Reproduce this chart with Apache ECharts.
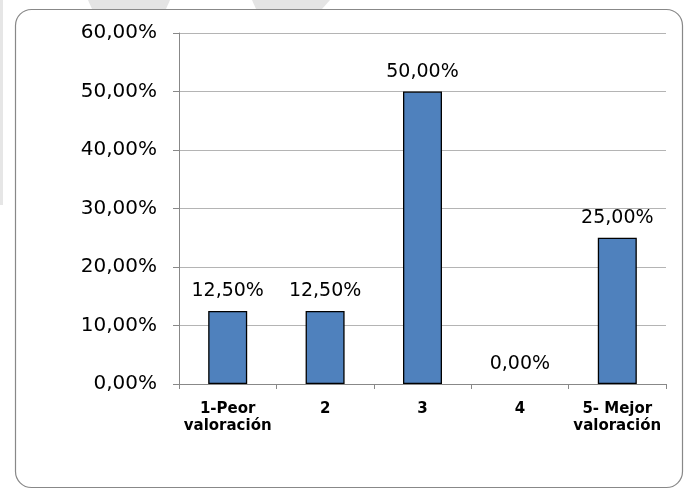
<!DOCTYPE html>
<html><head><meta charset="utf-8">
<script src="https://cdn.jsdelivr.net/npm/echarts@6/dist/echarts.min.js"></script>
<style>html,body{margin:0;padding:0;background:#fff}#c{width:688px;height:489px}</style>
</head><body><div id="c"></div>
<script>
const categories = ['1-Peor\nvaloración', '2', '3', '4', '5- Mejor\nvaloración'];
const values = [12.5, 12.5, 50, 0, 25];
const yTicks = [0, 10, 20, 30, 40, 50, 60];
const fmt = v => v.toFixed(2).replace('.', ',') + '%';
const FONT = 'DejaVu Sans, Liberation Sans, Arial, sans-serif';
const chart = echarts.init(document.getElementById('c'), null, {renderer: 'canvas'});
chart.setOption({
  animation: false,
  backgroundColor: '#fff',
  graphic: [
    {type: 'polygon', silent: true, z: -10, shape: {points: [[0,0],[3,0],[3,205],[0,205]]}, style: {fill: '#e6e6e6'}},
    {type: 'polygon', silent: true, z: -10, shape: {points: [[88,0],[170,0],[166,9],[92,9]]}, style: {fill: '#e4e4e4'}},
    {type: 'polygon', silent: true, z: -10, shape: {points: [[252,0],[330,0],[322,9],[256,9]]}, style: {fill: '#e4e4e4'}},
    {type: 'rect', silent: true, z: -5, shape: {x: 15.5, y: 9.5, width: 667, height: 478, r: 16}, style: {fill: '#fff', stroke: '#888', lineWidth: 1.2}}
  ],
  grid: {left: 179, right: 22, top: 33, bottom: 105, containLabel: false},
  xAxis: {
    type: 'category', data: categories,
    axisLine: {lineStyle: {color: '#888', width: 1}},
    axisTick: {show: true, length: 5, alignWithLabel: false, lineStyle: {color: '#888'}},
    axisLabel: {color: '#000', fontFamily: FONT, fontWeight: 'bold', fontSize: 15, lineHeight: 17, margin: 17, interval: 0}
  },
  yAxis: {
    type: 'value', min: 0, max: 60, interval: 10,
    axisLine: {show: true, lineStyle: {color: '#888', width: 1}},
    axisTick: {show: true, length: 6, lineStyle: {color: '#888'}},
    splitLine: {lineStyle: {color: '#b4b4b4', width: 1}},
    axisLabel: {color: '#000', fontFamily: FONT, fontSize: 20, margin: 22, formatter: v => fmt(v)}
  },
  series: [{
    type: 'bar',
    data: values.map(v => v === 0 ? {value: v, itemStyle: {borderWidth: 0}} : v),
    barWidth: 39,
    itemStyle: {color: '#4F81BD', borderColor: '#000', borderWidth: 1.3},
    label: {show: true, position: 'top', distance: 10, color: '#000', fontFamily: FONT, fontSize: 19, formatter: p => fmt(p.value)}
  }]
});
</script></body></html>
